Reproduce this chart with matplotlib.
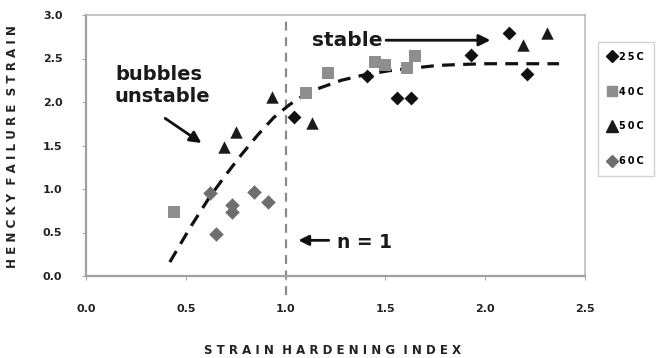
import matplotlib
matplotlib.use("Agg")
import matplotlib.pyplot as plt
from matplotlib.lines import Line2D

plt.rcParams['font.family'] = ['DejaVu Sans']

# --- data ---
x_25c = [1.04, 1.41, 1.56, 1.63, 1.93, 2.12, 2.21]
y_25c = [1.83, 2.30, 2.05, 2.05, 2.54, 2.79, 2.32]

x_40c = [0.44, 1.10, 1.21, 1.45, 1.50, 1.61, 1.65]
y_40c = [0.74, 2.10, 2.33, 2.46, 2.43, 2.39, 2.53]

x_50c = [0.69, 0.75, 0.93, 1.13, 2.19, 2.31]
y_50c = [1.48, 1.66, 2.06, 1.76, 2.66, 2.79]

x_60c = [0.62, 0.65, 0.73, 0.73, 0.84, 0.91]
y_60c = [0.95, 0.48, 0.82, 0.74, 0.97, 0.85]

fit_x = [0.42, 0.52, 0.62, 0.70, 0.77, 0.86, 0.94, 1.02, 1.10, 1.17, 1.28, 1.39, 1.52, 1.64, 1.76, 1.86, 2.00, 2.15, 2.37]
fit_y = [0.16, 0.55, 0.91, 1.16, 1.37, 1.62, 1.82, 1.97, 2.09, 2.16, 2.25, 2.31, 2.36, 2.39, 2.42, 2.43, 2.44, 2.44, 2.44]

x_ticks = [0.0, 0.5, 1.0, 1.5, 2.0, 2.5]
x_tick_labels = ["0.0", "0.5", "1.0", "1.5", "2.0", "2.5"]
y_ticks = [0.0, 0.5, 1.0, 1.5, 2.0, 2.5, 3.0]
y_tick_labels = ["0.0", "0.5", "1.0", "1.5", "2.0", "2.5", "3.0"]

series_labels = ["25C", "40C", "50C", "60C"]
x_title = "STRAIN HARDENING INDEX"
y_title = "HENCKY FAILURE STRAIN"


def spaced(s, gap=" "):
    """Letter-spaced rendering of a label (wide tracking as in the original)."""
    return "  ".join(gap.join(word) for word in s.split(" "))


fig = plt.figure(figsize=(6.57, 3.58), dpi=100)
ax = fig.add_axes([86/657, 1 - 276/358, (585-86)/657, (276-15)/358])

black = "#111111"
gray_sq = "#8e8e8e"
gray_dm = "#6e6e6e"

ax.plot(fit_x, fit_y, linestyle=(0, (4, 2.6)), color=black, lw=2.3, zorder=2)

ax.plot([1.0, 1.0], [-0.22, 2.95], linestyle=(0, (4, 3)), color="#8a8a8a", lw=1.6,
        clip_on=False, zorder=1)

ax.scatter(x_25c, y_25c, marker="D", s=50, color=black, zorder=3, linewidths=0)
ax.scatter(x_40c, y_40c, marker="s", s=75, color=gray_sq, zorder=3, linewidths=0)
ax.scatter(x_50c, y_50c, marker="^", s=80, color="#1a1a1a", zorder=3, linewidths=0)
ax.scatter(x_60c, y_60c, marker="D", s=55, color=gray_dm, zorder=3, linewidths=0)

ax.set_xlim(0, 2.5)
ax.set_ylim(0, 3.0)
ax.set_xticks(x_ticks)
ax.set_xticklabels(x_tick_labels)
ax.set_yticks(y_ticks)
ax.set_yticklabels(y_tick_labels)
ax.tick_params(axis='x', direction='out', length=3, color="#aaaaaa", pad=17,
               labelsize=8)
ax.tick_params(axis='y', direction='out', length=3, color="#aaaaaa", pad=14,
               labelsize=8)
for lab in ax.get_xticklabels() + ax.get_yticklabels():
    lab.set_fontweight('bold')
    lab.set_color("#222222")

for side in ['left', 'bottom']:
    ax.spines[side].set_color("#a0a0a0")
    ax.spines[side].set_linewidth(1.6)
for side in ['top', 'right']:
    ax.spines[side].set_color("#b5b5b5")
    ax.spines[side].set_linewidth(1.1)

fig.text(333/657, 1 - 350/358, spaced(x_title), ha='center', va='center',
         fontsize=8.5, fontweight='bold', color="#222222")
fig.text(13/657, 1 - 147/358, spaced(y_title), ha='center', va='center',
         rotation=90, fontsize=8.6, fontweight='bold', color="#222222")

ax.text(0.145, 2.19, "bubbles\nunstable", fontsize=14, fontweight='bold',
        color="#1a1a1a", ha='left', va='center', linespacing=1.25)
ax.annotate("", xy=(0.59, 1.51), xytext=(0.385, 1.83),
            arrowprops=dict(arrowstyle="-|>", color=black, lw=2.0,
                            mutation_scale=17))

ax.text(1.13, 2.71, "stable", fontsize=14.5, fontweight='bold', color="#1a1a1a",
        ha='left', va='center')
ax.annotate("", xy=(2.04, 2.71), xytext=(1.49, 2.71),
            arrowprops=dict(arrowstyle="-|>", color=black, lw=2.0,
                            mutation_scale=17))

ax.text(1.26, 0.39, "n = 1", fontsize=13.5, fontweight='bold', color="#1a1a1a",
        ha='left', va='center')
ax.annotate("", xy=(1.05, 0.41), xytext=(1.23, 0.41),
            arrowprops=dict(arrowstyle="-|>", color=black, lw=2.0,
                            mutation_scale=15))

handles = [
    Line2D([], [], marker="D", color=black, linestyle='none', markersize=6),
    Line2D([], [], marker="s", color=gray_sq, linestyle='none', markersize=7.5),
    Line2D([], [], marker="^", color="#1a1a1a", linestyle='none', markersize=8),
    Line2D([], [], marker="D", color=gray_dm, linestyle='none', markersize=6),
]
leg = fig.legend(handles, [spaced(s, "\u2009") for s in series_labels], loc='upper left',
                 bbox_to_anchor=(598/657, 1 - 42/358), frameon=True,
                 fancybox=False, handlelength=0.8, handletextpad=0.4,
                 labelspacing=2.55, borderpad=1.0, borderaxespad=0,
                 prop={'weight': 'bold', 'size': 7})
leg.get_frame().set_edgecolor("#c8c8c8")
leg.get_frame().set_linewidth(1.0)

fig.savefig("out.png", dpi=100)
